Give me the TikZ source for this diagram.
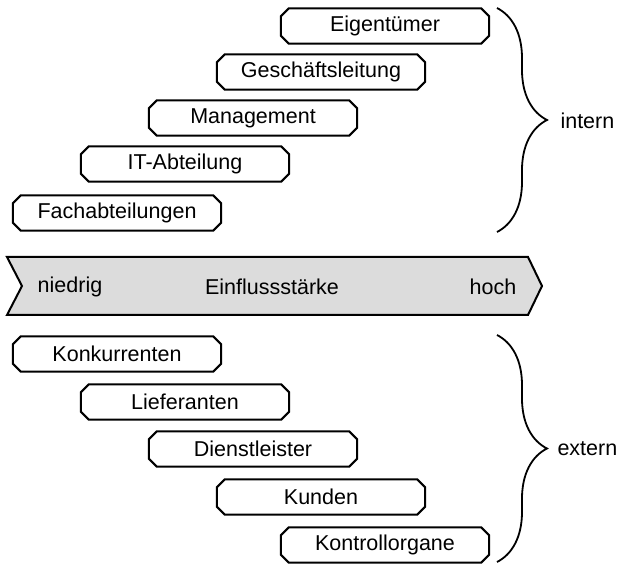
\documentclass[tikz,border=0pt]{standalone}
\usepackage{fontspec}
\setmainfont{Liberation Sans}
\usetikzlibrary{decorations.pathreplacing, positioning}
\definecolor{BandGray}{HTML}{DCDCDC}
\definecolor{LineBlack}{HTML}{000000}

\begin{document}
\begin{tikzpicture}[x=1pt, y=-1pt,
    stakeholder/.style={rectangle, minimum width=208pt, minimum height=35pt,
        inner sep=0pt, font=\fontsize{21.5}{25}\selectfont},
    boxline/.style={draw=LineBlack, line width=2pt, line join=miter},
    bandtext/.style={font=\fontsize{21.5}{25}\selectfont},
    curly/.style={decorate, decoration={brace, amplitude=50pt}, line width=1.8pt}]
    \useasboundingbox (0,0) rectangle (627,564);

    % Stakeholder, intern und extern
    \foreach \name/\txt/\x/\y in {eig/Eigentümer/385/26, gf/Geschäftsleitung/321/72,
        mgmt/Management/253/118, it/IT-Abteilung/185/164, fach/Fachabteilungen/117/213,
        konk/Konkurrenten/117/354, lief/Lieferanten/185/402, dienst/Dienstleister/253/449,
        kunden/Kunden/321/497, kontr/Kontrollorgane/385/545} {
        \node[stakeholder] (\name) at (\x,\y) {\txt};
        % abgeschraegte Ecken
        \draw[boxline] ([xshift=8pt]\name.north west) -- ([xshift=-8pt]\name.north east)
            -- ([yshift=-8pt]\name.north east) -- ([yshift=8pt]\name.south east)
            -- ([xshift=-8pt]\name.south east) -- ([xshift=8pt]\name.south west)
            -- ([yshift=8pt]\name.south west) -- ([yshift=-8pt]\name.north west) -- cycle;
    }

    % Band
    \draw[LineBlack, line width=2pt, fill=BandGray]
        (7,257) -- (528,257) -- (542,286) -- (528,315) -- (7,315) -- (22,286) -- cycle;
    \node[bandtext] (niedrig) at (70,287) {niedrig};
    \node[bandtext] (staerke) at (272,287) {Einflussstärke};
    \node[bandtext] (hoch) at (493,287) {hoch};

    % Klammern
    \coordinate (intop) at (497,8);
    \coordinate (inbot) at (497,232);
    \coordinate (extop) at (497,335);
    \coordinate (exbot) at (497,562);
    \draw[curly] (intop) -- (inbot);
    \draw[curly] (extop) -- (exbot);
    \node[bandtext, anchor=west] (intern) at (557,121) {intern};
    \node[bandtext, anchor=west] (extern) at (554,449) {extern};
\end{tikzpicture}
\end{document}
